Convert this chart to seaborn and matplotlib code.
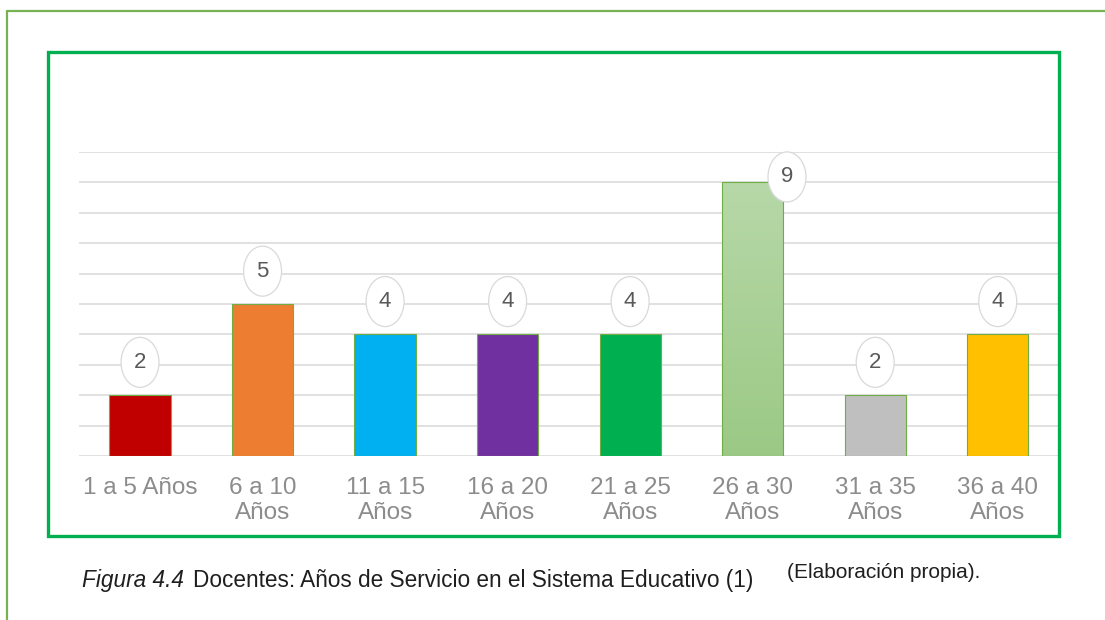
import numpy as np
import pandas as pd
import matplotlib
matplotlib.use('Agg')
import matplotlib.pyplot as plt
from matplotlib.patches import Ellipse, Rectangle
from matplotlib.lines import Line2D
import seaborn as sns

# Datos del grafico
categorias = ['1 a 5 Años', '6 a 10\nAños', '11 a 15\nAños', '16 a 20\nAños',
              '21 a 25\nAños', '26 a 30\nAños', '31 a 35\nAños', '36 a 40\nAños']
docentes = [2, 5, 4, 4, 4, 9, 2, 4]
colores = ['#C00000', '#ED7D31', '#00B0F0', '#7030A0',
           '#00B050', '#A9D18E', '#BFBFBF', '#FFC000']

df = pd.DataFrame({'Rango': categorias, 'Docentes': docentes})

sns.set_style('white')
plt.rcParams['font.family'] = ['Liberation Sans', 'DejaVu Sans']

fig = plt.figure(figsize=(11.05, 6.2), dpi=100)
ax = fig.add_axes([78.75 / 1105, 164 / 620, 980.25 / 1105, 304 / 620])

sns.barplot(data=df, x='Rango', y='Docentes', hue='Rango', palette=colores,
            saturation=1, legend=False, width=0.5, ax=ax,
            edgecolor='#70AD47', linewidth=0.8)

# degradado en la barra de 26 a 30 años
barra = ax.patches[5]
x0, y0 = barra.get_x(), barra.get_y()
w, h = barra.get_width(), barra.get_height()
grad = np.linspace(0, 1, 256).reshape(-1, 1)
cmap = matplotlib.colors.LinearSegmentedColormap.from_list('g', ['#9BC985', '#B7D8A8'])
img = ax.imshow(grad, extent=[x0, x0 + w, y0, y0 + h], origin='lower',
                aspect='auto', cmap=cmap, zorder=0.9)
img.set_clip_path(barra)
barra.set_facecolor('none')

ax.set_xlim(-0.5, len(categorias) - 0.5)
ax.set_ylim(0, 10)
ax.set_yticks(range(0, 11))
ax.set_yticklabels([])
ax.yaxis.grid(True, color='#D9D9D9', linewidth=1.1)
ax.set_axisbelow(True)
for s in ax.spines.values():
    s.set_visible(False)
ax.tick_params(axis='x', length=0, pad=15, labelsize=17.5, labelcolor='#8C8C8C')
ax.tick_params(axis='y', length=0)
ax.set_xlabel('')
ax.set_ylabel('')

# etiquetas de valor en burbujas
for i, v in enumerate(docentes):
    if v == max(docentes):
        cx, cy = i + 0.28, v + 0.18
    else:
        cx, cy = i, v + 1.08
    ax.add_patch(Ellipse((cx, cy), 0.31, 1.645, facecolor='white',
                         edgecolor='#D9D9D9', linewidth=0.9, zorder=3, clip_on=False))
    ax.text(cx, cy, str(v), ha='center', va='center', fontsize=16,
            color='#595959', zorder=4)

# marcos
fig.add_artist(Line2D([6.5 / 1105, 1.0], [1 - 10.5 / 620, 1 - 10.5 / 620],
                      transform=fig.transFigure, color='#77B151', linewidth=1.6))
fig.add_artist(Line2D([6.5 / 1105, 6.5 / 1105], [0, 1 - 10.5 / 620],
                      transform=fig.transFigure, color='#77B151', linewidth=1.6))
fig.add_artist(Rectangle((48 / 1105, 1 - 536 / 620), 1011 / 1105, 484 / 620,
                         transform=fig.transFigure, fill=False,
                         edgecolor='#00B050', linewidth=2.4))

# pie de figura
fig.text(82 / 1105, 1 - 580 / 620, 'Figura 4.4', fontsize=16.3, style='italic',
         color='#1F1F1F', va='center')
fig.text(193 / 1105, 1 - 580 / 620, 'Docentes: Años de Servicio en el Sistema Educativo (1)',
         fontsize=16.3, color='#1F1F1F', va='center')
fig.text(787 / 1105, 1 - 573 / 620, '(Elaboración propia).', fontsize=15,
         color='#1F1F1F', va='center')

fig.savefig('out.png', dpi=100)
